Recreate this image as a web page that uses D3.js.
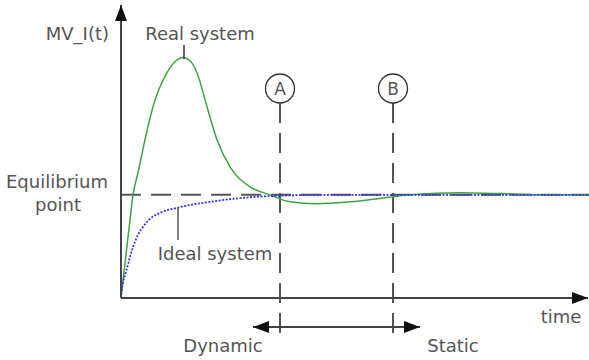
<!DOCTYPE html>
<html>
<head>
<meta charset="utf-8">
<script src="https://cdn.jsdelivr.net/npm/d3@7"></script>
<style>
  body { margin: 0; background: #fff; }
  text { font-family: "DejaVu Sans", sans-serif; fill: #555; }
</style>
</head>
<body>
<svg id="chart" width="589" height="360"></svg>
<script>
// real system response (time, value) - equilibrium = 1
const realT = [0, 0.9, 1.2, 1.7, 2.4, 3.2, 4.6, 5.4, 6.2, 6.9, 7.6, 8.6, 9.6, 10.9, 12.9, 14.9, 16.9, 19.6, 22.9, 27.2, 28.9, 33.9, 38, 42.2, 46.8];
const realV = [0, 0.757, 1.0, 1.214, 1.534, 1.854, 2.184, 2.29, 2.33, 2.30, 2.184, 1.854, 1.534, 1.272, 1.078, 1.0, 0.932, 0.913, 0.932, 0.981, 1.0, 1.019, 1.012, 1.0, 1.0];
// ideal system response
const idealT = [0, 0.1, 0.2, 0.4, 0.6, 0.9, 1.2, 1.7, 2.2, 2.9, 3.9, 5.6, 8.9, 12.2, 15.6, 19.9, 46.8];
const idealV = [0, 0.097, 0.146, 0.223, 0.291, 0.398, 0.495, 0.612, 0.689, 0.767, 0.825, 0.874, 0.932, 0.971, 0.990, 1.0, 1.0];
const equilibrium = 1;
const markers = ["A", "B"];
const markerT = [15.9, 27.2];

const svg = d3.select("#chart");
const x = d3.scaleLinear().domain([0, 46.7]).range([121, 588]);
const y = d3.scaleLinear().domain([0, 2.84]).range([298, 5]);

let defs = svg.append("defs");
defs.append("marker").attr("id", "arr")
  .attr("viewBox", "0 0 16 12").attr("refX", 16).attr("refY", 6)
  .attr("markerWidth", 16).attr("markerHeight", 12)
  .attr("markerUnits", "userSpaceOnUse").attr("orient", "auto-start-reverse")
  .append("path").attr("d", "M0,0L16,6L0,12Z").attr("fill", "#111");

// equilibrium dashed line
svg.append("line")
  .attr("x1", x(0)).attr("x2", 589)
  .attr("y1", y(equilibrium)).attr("y2", y(equilibrium))
  .attr("stroke", "#555").attr("stroke-width", 2).attr("stroke-dasharray", "20,10");

// A / B dashed verticals + circles
markers.forEach((m, i) => {
  let px = x(markerT[i]);
  svg.append("line")
    .attr("x1", px).attr("x2", px).attr("y1", 103).attr("y2", 337)
    .attr("stroke", "#555").attr("stroke-width", 2).attr("stroke-dasharray", "20,10");
  svg.append("circle").attr("cx", px).attr("cy", 88.5).attr("r", 14.5)
    .attr("fill", "#fff").attr("stroke", "#333").attr("stroke-width", 1.3);
  svg.append("text").attr("x", px).attr("y", 95).attr("text-anchor", "middle")
    .attr("font-size", 17).text(m);
});

// curves
let line = d3.line().x(d => x(d[0])).y(d => y(d[1])).curve(d3.curveMonotoneX);
svg.append("path").datum(realT.map((t, i) => [t, realV[i]]))
  .attr("d", line).attr("fill", "none").attr("stroke", "#3fa33f").attr("stroke-width", 1.5);
svg.append("path").datum(idealT.map((t, i) => [t, idealV[i]]))
  .attr("d", line).attr("fill", "none").attr("stroke", "#3333ff").attr("stroke-width", 1.8)
  .attr("stroke-dasharray", "2,1.5");

// axes
svg.append("line").attr("x1", x(0)).attr("y1", y(0)).attr("x2", x(0)).attr("y2", y(2.84))
  .attr("stroke", "#444").attr("stroke-width", 2).attr("marker-end", "url(#arr)");
svg.append("line").attr("x1", x(0)).attr("y1", y(0)).attr("x2", x(46.7)).attr("y2", y(0))
  .attr("stroke", "#444").attr("stroke-width", 2).attr("marker-end", "url(#arr)");

// dynamic / static arrow
svg.append("line").attr("x1", 253).attr("x2", 420).attr("y1", 327).attr("y2", 327)
  .attr("stroke", "#444").attr("stroke-width", 2)
  .attr("marker-start", "url(#arr)").attr("marker-end", "url(#arr)");

// leader lines
svg.append("line").attr("x1", 184).attr("x2", 184).attr("y1", 45).attr("y2", 59)
  .attr("stroke", "#333").attr("stroke-width", 1.5);
svg.append("line").attr("x1", 178).attr("x2", 178).attr("y1", 208).attr("y2", 240)
  .attr("stroke", "#555").attr("stroke-width", 1.5);

// labels
const labels = [
  {t: "MV_I(t)", x: 109, y: 40, a: "end"},
  {t: "Real system", x: 200, y: 40, a: "middle"},
  {t: "Equilibrium", x: 57, y: 188, a: "middle"},
  {t: "point", x: 58, y: 211, a: "middle"},
  {t: "Ideal system", x: 215, y: 260, a: "middle"},
  {t: "time", x: 561, y: 323, a: "middle"},
  {t: "Dynamic", x: 223, y: 352, a: "middle"},
  {t: "Static", x: 453, y: 352, a: "middle"}
];
svg.selectAll("text.lbl").data(labels).enter().append("text").attr("class", "lbl")
  .attr("x", d => d.x).attr("y", d => d.y).attr("text-anchor", d => d.a)
  .attr("font-size", 18).text(d => d.t);
</script>
</body>
</html>
